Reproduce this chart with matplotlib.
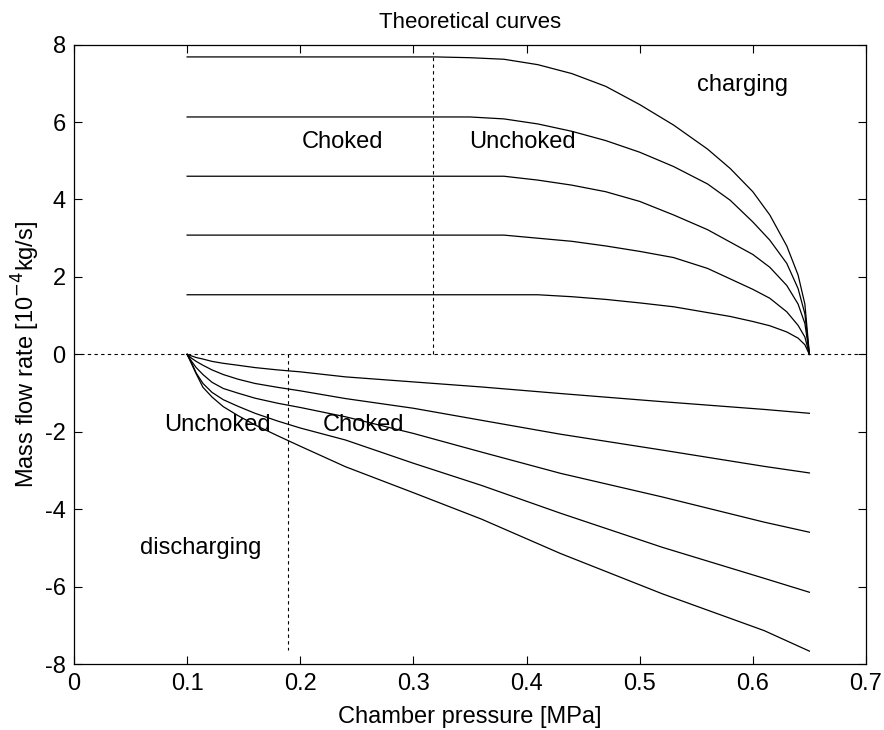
import matplotlib
matplotlib.use('Agg')
import matplotlib.pyplot as plt

plt.rcParams['font.family'] = ['Liberation Sans', 'DejaVu Sans']
plt.rcParams['axes.unicode_minus'] = False

# Charging curves (chamber pressure in MPa, flow rate in 1e-4 kg/s)
charge_p = [0.10, 0.32, 0.35, 0.38, 0.41, 0.44, 0.47, 0.50, 0.53, 0.56,
            0.58, 0.60, 0.615, 0.63, 0.64, 0.646, 0.65]
charge_1 = [1.54, 1.54, 1.54, 1.54, 1.54, 1.49, 1.42, 1.33, 1.23, 1.08,
            0.98, 0.85, 0.74, 0.58, 0.42, 0.25, 0.0]
charge_2 = [3.08, 3.08, 3.08, 3.08, 3.00, 2.92, 2.80, 2.66, 2.50, 2.22,
            1.95, 1.68, 1.45, 1.10, 0.75, 0.45, 0.0]
charge_3 = [4.60, 4.60, 4.60, 4.60, 4.50, 4.37, 4.20, 3.95, 3.60, 3.22,
            2.90, 2.58, 2.25, 1.78, 1.30, 0.80, 0.0]
charge_4 = [6.13, 6.13, 6.13, 6.08, 5.95, 5.76, 5.52, 5.22, 4.85, 4.40,
            3.98, 3.42, 2.95, 2.35, 1.70, 1.05, 0.0]
charge_5 = [7.68, 7.68, 7.66, 7.62, 7.48, 7.25, 6.92, 6.45, 5.92, 5.30,
            4.80, 4.20, 3.60, 2.80, 2.05, 1.30, 0.0]

# Discharging curves
discharge_p = [0.100, 0.104, 0.108, 0.114, 0.122, 0.132, 0.145, 0.160, 0.180,
               0.200, 0.240, 0.300, 0.360, 0.430, 0.520, 0.610, 0.650]
discharge_1 = [0.0, -0.04, -0.08, -0.12, -0.18, -0.23, -0.28, -0.34, -0.40,
               -0.45, -0.58, -0.71, -0.84, -1.01, -1.22, -1.42, -1.52]
discharge_2 = [0.0, -0.10, -0.18, -0.28, -0.40, -0.52, -0.64, -0.75, -0.85,
               -0.94, -1.14, -1.39, -1.70, -2.06, -2.47, -2.89, -3.06]
discharge_3 = [0.0, -0.18, -0.34, -0.52, -0.72, -0.88, -1.00, -1.13, -1.26,
               -1.37, -1.61, -2.04, -2.52, -3.07, -3.68, -4.33, -4.59]
discharge_4 = [0.0, -0.22, -0.48, -0.75, -0.98, -1.17, -1.34, -1.52, -1.72,
               -1.90, -2.21, -2.81, -3.38, -4.10, -4.98, -5.78, -6.14]
discharge_5 = [0.0, -0.25, -0.50, -0.85, -1.10, -1.35, -1.58, -1.82, -2.10,
               -2.37, -2.90, -3.57, -4.25, -5.14, -6.18, -7.13, -7.66]

# Choked / unchoked boundaries
charge_boundary = 0.317
discharge_boundary = 0.189

def main():
    fig = plt.figure(figsize=(8.84, 7.3), dpi=100)
    ax = fig.add_axes([0.0837, 0.09, 0.8959, 0.849])

    for ys in [charge_1, charge_2, charge_3, charge_4, charge_5]:
        ax.plot(charge_p, ys, color='black', lw=0.9)
    for ys in [discharge_1, discharge_2, discharge_3, discharge_4, discharge_5]:
        ax.plot(discharge_p, ys, color='black', lw=0.9)

    dash = dict(color='black', lw=0.8, dashes=(3, 3))
    ax.plot([0, 0.7], [0, 0], **dash)
    ax.plot([charge_boundary, charge_boundary], [0, 7.8], **dash)
    ax.plot([discharge_boundary, discharge_boundary], [0, -7.63], **dash)

    fs = 17
    ax.text(0.237, 5.48, 'Choked', fontsize=fs, ha='center', va='center')
    ax.text(0.396, 5.48, 'Unchoked', fontsize=fs, ha='center', va='center')
    ax.text(0.591, 6.95, 'charging', fontsize=fs, ha='center', va='center')
    ax.text(0.127, -1.82, 'Unchoked', fontsize=fs, ha='center', va='center')
    ax.text(0.256, -1.82, 'Choked', fontsize=fs, ha='center', va='center')
    ax.text(0.112, -5.0, 'discharging', fontsize=fs, ha='center', va='center')

    ax.set_xlim(0, 0.7)
    ax.set_ylim(-8, 8)
    ax.set_xticks([0, 0.1, 0.2, 0.3, 0.4, 0.5, 0.6, 0.7])
    ax.set_xticklabels(['0', '0.1', '0.2', '0.3', '0.4', '0.5', '0.6', '0.7'])
    ax.set_yticks([-8, -6, -4, -2, 0, 2, 4, 6, 8])
    ax.tick_params(direction='in', top=True, right=True, length=6,
                   width=0.8, labelsize=fs, pad=6)
    for s in ax.spines.values():
        s.set_linewidth(0.9)

    ax.set_xlabel('Chamber pressure [MPa]', fontsize=fs, labelpad=8)
    ax.set_ylabel('Mass flow rate [10$^{-4}$kg/s]', fontsize=fs, labelpad=2)
    ax.set_title('Theoretical curves', fontsize=16, pad=12)

    fig.savefig('out.png', dpi=100)

if __name__ == '__main__':
    main()
